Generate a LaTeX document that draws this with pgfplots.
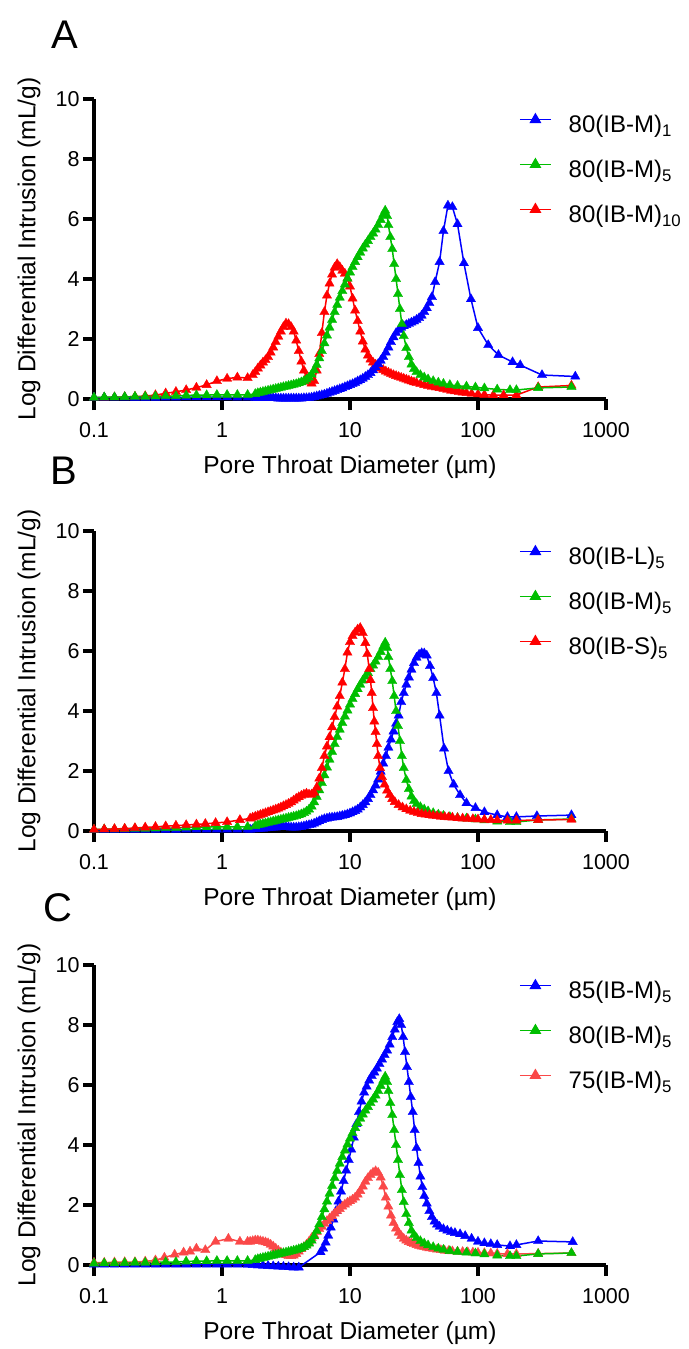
\documentclass[border=0pt]{standalone}
\usepackage{fontspec}
\setmainfont{Liberation Sans}
\usepackage{pgfplots}
\usepackage{pgfplotstable}
\pgfplotsset{compat=1.18}
\definecolor{cblue}{RGB}{0,0,255}
\definecolor{cgreen}{RGB}{0,190,0}
\definecolor{cred}{RGB}{255,0,0}
\definecolor{clred}{RGB}{250,72,72}

% ---------- data: lx = log10(diameter / um), y = log differential intrusion ----------
\pgfplotstableread{
lx y
-1.00 0.05
-0.92 0.06
-0.84 0.06
-0.76 0.07
-0.68 0.08
-0.60 0.08
-0.52 0.09
-0.44 0.10
-0.36 0.10
-0.28 0.12
-0.20 0.13
-0.12 0.13
-0.04 0.14
0.04 0.14
0.12 0.14
0.20 0.14
0.26 0.17
0.28 0.20
0.30 0.22
0.32 0.24
0.34 0.26
0.36 0.28
0.38 0.30
0.40 0.32
0.42 0.34
0.44 0.36
0.46 0.38
0.48 0.40
0.50 0.42
0.52 0.44
0.54 0.46
0.56 0.48
0.58 0.50
0.60 0.53
0.62 0.56
0.64 0.60
0.66 0.65
0.68 0.72
0.70 0.82
0.72 0.96
0.74 1.14
0.76 1.36
0.78 1.60
0.80 1.86
0.82 2.12
0.84 2.38
0.86 2.64
0.88 2.90
0.90 3.14
0.92 3.38
0.94 3.60
0.96 3.82
0.98 4.02
1.00 4.22
1.02 4.40
1.04 4.57
1.06 4.73
1.08 4.88
1.10 5.02
1.12 5.15
1.14 5.27
1.16 5.40
1.18 5.52
1.20 5.65
1.22 5.80
1.24 5.97
1.26 6.15
1.275 6.28
1.29 6.10
1.30 5.80
1.315 5.40
1.33 5.00
1.345 4.50
1.36 4.00
1.375 3.50
1.39 3.00
1.405 2.50
1.42 2.10
1.44 1.70
1.46 1.40
1.48 1.15
1.50 1.00
1.52 0.90
1.55 0.80
1.58 0.72
1.61 0.66
1.65 0.60
1.69 0.55
1.73 0.51
1.78 0.47
1.84 0.44
1.91 0.42
1.98 0.39
2.05 0.36
2.15 0.32
2.25 0.30
2.30 0.30
2.47 0.37
2.73 0.40
}\greenM

\pgfplotstableread{
lx y
-1.00 0.05
-0.92 0.05
-0.84 0.05
-0.76 0.05
-0.68 0.04
-0.60 0.04
-0.52 0.04
-0.44 0.05
-0.36 0.05
-0.28 0.06
-0.20 0.06
-0.12 0.06
-0.04 0.06
0.04 0.06
0.12 0.05
0.20 0.05
0.26 0.04
0.28 0.03
0.30 0.03
0.32 0.03
0.34 0.03
0.36 0.03
0.38 0.03
0.40 0.03
0.42 0.03
0.44 0.02
0.46 0.02
0.48 0.02
0.50 0.02
0.52 0.02
0.54 0.02
0.56 0.02
0.58 0.02
0.60 0.02
0.62 0.02
0.64 0.03
0.66 0.03
0.68 0.04
0.70 0.05
0.72 0.07
0.74 0.09
0.76 0.11
0.78 0.13
0.80 0.15
0.82 0.18
0.84 0.21
0.86 0.24
0.88 0.27
0.90 0.30
0.92 0.33
0.94 0.36
0.96 0.40
0.98 0.43
1.00 0.47
1.02 0.50
1.04 0.54
1.06 0.59
1.08 0.63
1.10 0.68
1.12 0.74
1.14 0.80
1.16 0.87
1.18 0.96
1.20 1.06
1.22 1.17
1.24 1.28
1.26 1.40
1.28 1.55
1.30 1.72
1.32 1.90
1.34 2.06
1.36 2.20
1.38 2.30
1.40 2.38
1.42 2.43
1.44 2.47
1.46 2.51
1.48 2.55
1.50 2.59
1.52 2.64
1.54 2.70
1.56 2.78
1.58 2.90
1.60 3.03
1.62 3.20
1.64 3.40
1.665 3.90
1.70 4.57
1.73 5.60
1.765 6.45
1.80 6.40
1.84 5.83
1.89 4.53
1.945 3.33
2.00 2.37
2.08 1.80
2.16 1.47
2.27 1.23
2.33 1.13
2.50 0.80
2.76 0.75
}\blueA

\pgfplotstableread{
lx y
-1.00 0.05
-0.92 0.05
-0.84 0.06
-0.76 0.07
-0.68 0.08
-0.60 0.10
-0.52 0.13
-0.44 0.19
-0.36 0.24
-0.28 0.30
-0.20 0.38
-0.12 0.47
-0.04 0.60
0.04 0.68
0.12 0.72
0.20 0.70
0.24 0.80
0.26 0.90
0.28 1.02
0.30 1.12
0.32 1.22
0.34 1.30
0.36 1.40
0.38 1.55
0.40 1.72
0.42 1.90
0.44 2.08
0.46 2.25
0.48 2.40
0.50 2.52
0.52 2.50
0.54 2.40
0.56 2.25
0.58 1.95
0.60 1.60
0.62 1.25
0.64 0.95
0.66 0.72
0.68 0.58
0.70 0.52
0.72 0.60
0.74 0.95
0.76 1.50
0.78 2.20
0.80 2.90
0.82 3.45
0.84 3.85
0.86 4.15
0.88 4.38
0.90 4.50
0.92 4.40
0.94 4.28
0.96 4.18
0.98 4.02
1.00 3.75
1.02 3.35
1.04 2.95
1.06 2.60
1.08 2.25
1.10 1.92
1.12 1.65
1.14 1.45
1.16 1.32
1.18 1.22
1.20 1.15
1.22 1.08
1.24 1.02
1.26 0.97
1.28 0.92
1.30 0.88
1.32 0.84
1.34 0.80
1.36 0.77
1.38 0.74
1.40 0.71
1.42 0.68
1.44 0.65
1.46 0.62
1.48 0.59
1.50 0.56
1.52 0.54
1.55 0.50
1.58 0.47
1.61 0.44
1.64 0.41
1.67 0.39
1.70 0.37
1.73 0.34
1.76 0.31
1.79 0.28
1.82 0.26
1.85 0.24
1.88 0.22
1.91 0.20
1.95 0.18
2.00 0.16
2.05 0.14
2.12 0.13
2.20 0.13
2.30 0.13
2.47 0.40
2.73 0.45
}\redA

\pgfplotstableread{
lx y
-1.00 0.04
-0.92 0.04
-0.84 0.04
-0.76 0.04
-0.68 0.04
-0.60 0.04
-0.52 0.04
-0.44 0.04
-0.36 0.04
-0.28 0.05
-0.20 0.05
-0.12 0.05
-0.04 0.05
0.04 0.05
0.12 0.05
0.20 0.05
0.22 0.05
0.24 0.06
0.26 0.06
0.28 0.07
0.30 0.08
0.32 0.08
0.34 0.09
0.36 0.10
0.38 0.11
0.40 0.12
0.42 0.12
0.44 0.13
0.46 0.13
0.48 0.14
0.50 0.14
0.52 0.13
0.54 0.12
0.56 0.12
0.58 0.12
0.60 0.13
0.62 0.14
0.64 0.16
0.66 0.18
0.68 0.20
0.70 0.22
0.72 0.25
0.74 0.29
0.76 0.33
0.78 0.37
0.80 0.40
0.82 0.42
0.84 0.44
0.86 0.45
0.88 0.46
0.90 0.47
0.92 0.49
0.94 0.51
0.96 0.53
0.98 0.56
1.00 0.59
1.02 0.63
1.04 0.67
1.06 0.72
1.08 0.79
1.10 0.87
1.12 0.96
1.14 1.07
1.16 1.20
1.18 1.36
1.20 1.52
1.22 1.72
1.24 1.98
1.26 2.25
1.28 2.50
1.30 2.78
1.32 3.05
1.34 3.32
1.36 3.58
1.38 3.85
1.40 4.30
1.42 4.60
1.44 4.88
1.46 5.12
1.48 5.38
1.50 5.60
1.52 5.78
1.54 5.88
1.56 5.93
1.58 5.92
1.60 5.85
1.625 5.50
1.65 5.10
1.675 4.60
1.70 3.85
1.735 2.75
1.77 2.00
1.81 1.55
1.86 1.20
1.91 0.93
1.98 0.77
2.05 0.63
2.15 0.53
2.23 0.47
2.30 0.47
2.46 0.50
2.73 0.53
}\blueB

\pgfplotstableread{
lx y
-1.00 0.05
-0.92 0.06
-0.84 0.07
-0.76 0.08
-0.68 0.10
-0.60 0.12
-0.52 0.14
-0.44 0.16
-0.36 0.18
-0.28 0.20
-0.20 0.22
-0.13 0.24
-0.05 0.27
0.04 0.30
0.14 0.37
0.22 0.42
0.24 0.45
0.26 0.48
0.28 0.51
0.30 0.54
0.32 0.57
0.34 0.60
0.36 0.63
0.38 0.66
0.40 0.69
0.42 0.72
0.44 0.75
0.46 0.79
0.48 0.83
0.50 0.87
0.52 0.91
0.54 0.96
0.56 1.02
0.58 1.08
0.60 1.13
0.62 1.18
0.64 1.22
0.66 1.25
0.68 1.22
0.70 1.22
0.72 1.28
0.74 1.45
0.76 1.75
0.78 2.10
0.80 2.50
0.82 2.82
0.84 3.13
0.86 3.46
0.88 3.80
0.90 4.15
0.92 4.50
0.94 4.95
0.96 5.40
0.98 5.95
1.00 6.30
1.02 6.50
1.04 6.62
1.06 6.72
1.08 6.77
1.10 6.60
1.12 6.27
1.135 5.90
1.15 5.40
1.16 5.03
1.17 4.60
1.18 4.10
1.19 3.65
1.20 3.30
1.21 2.90
1.22 2.50
1.235 2.10
1.25 1.80
1.27 1.55
1.29 1.35
1.31 1.20
1.33 1.07
1.35 0.97
1.38 0.87
1.41 0.79
1.44 0.73
1.47 0.68
1.50 0.64
1.53 0.60
1.56 0.57
1.59 0.55
1.62 0.53
1.65 0.51
1.68 0.50
1.71 0.48
1.74 0.47
1.77 0.46
1.80 0.45
1.84 0.43
1.88 0.42
1.92 0.41
1.96 0.40
2.00 0.39
2.05 0.38
2.10 0.37
2.15 0.36
2.23 0.35
2.30 0.35
2.47 0.37
2.73 0.38
}\redB

\pgfplotstableread{
lx y
-1.00 0.02
-0.92 0.02
-0.84 0.02
-0.76 0.02
-0.68 0.02
-0.60 0.02
-0.52 0.02
-0.44 0.02
-0.36 0.02
-0.28 0.02
-0.20 0.02
-0.12 0.02
-0.04 0.02
0.04 0.02
0.12 0.02
0.20 0.01
0.24 0.00
0.28 -0.01
0.32 -0.02
0.36 -0.03
0.40 -0.04
0.44 -0.05
0.48 -0.06
0.52 -0.07
0.56 -0.08
0.60 -0.08
0.77 0.43
0.79 0.55
0.81 0.75
0.83 0.98
0.85 1.25
0.87 1.52
0.89 1.80
0.91 2.12
0.93 2.45
0.95 2.80
0.97 3.15
0.99 3.50
1.01 3.85
1.03 4.25
1.05 4.70
1.07 5.10
1.09 5.45
1.11 5.75
1.13 5.95
1.15 6.15
1.17 6.30
1.19 6.42
1.21 6.55
1.23 6.70
1.25 6.85
1.27 7.00
1.29 7.15
1.31 7.35
1.33 7.60
1.35 7.85
1.37 8.10
1.385 8.20
1.40 8.00
1.415 7.60
1.43 7.10
1.445 6.60
1.46 6.10
1.475 5.60
1.49 5.10
1.505 4.50
1.52 3.90
1.535 3.40
1.55 2.95
1.565 2.60
1.58 2.30
1.60 2.05
1.62 1.80
1.64 1.60
1.66 1.45
1.68 1.35
1.70 1.28
1.73 1.20
1.76 1.15
1.79 1.10
1.82 1.07
1.86 1.03
1.90 0.97
1.95 0.88
2.00 0.78
2.05 0.73
2.10 0.70
2.15 0.67
2.25 0.63
2.30 0.67
2.47 0.80
2.74 0.77
}\blueC

\pgfplotstableread{
lx y
-1.00 0.08
-0.92 0.08
-0.84 0.09
-0.76 0.10
-0.68 0.10
-0.60 0.12
-0.52 0.16
-0.45 0.25
-0.37 0.35
-0.30 0.42
-0.25 0.45
-0.20 0.55
-0.13 0.50
-0.05 0.78
0.05 0.88
0.14 0.78
0.20 0.78
0.22 0.78
0.24 0.80
0.26 0.82
0.28 0.82
0.30 0.80
0.32 0.78
0.34 0.76
0.36 0.73
0.38 0.68
0.40 0.62
0.42 0.55
0.44 0.48
0.46 0.42
0.48 0.37
0.50 0.33
0.52 0.30
0.54 0.30
0.56 0.32
0.58 0.37
0.60 0.45
0.62 0.53
0.64 0.60
0.66 0.68
0.68 0.78
0.70 0.90
0.72 1.00
0.74 1.10
0.76 1.20
0.78 1.28
0.80 1.38
0.82 1.47
0.84 1.55
0.86 1.63
0.88 1.72
0.90 1.80
0.92 1.87
0.94 1.95
0.96 2.02
0.98 2.08
1.00 2.13
1.02 2.18
1.04 2.25
1.06 2.35
1.08 2.47
1.10 2.62
1.12 2.78
1.14 2.90
1.16 3.00
1.18 3.08
1.20 3.13
1.22 3.08
1.24 2.92
1.26 2.62
1.28 2.25
1.30 1.95
1.32 1.65
1.34 1.40
1.36 1.22
1.38 1.08
1.40 0.97
1.42 0.88
1.44 0.82
1.46 0.77
1.48 0.73
1.50 0.70
1.52 0.67
1.54 0.64
1.56 0.62
1.58 0.60
1.60 0.58
1.62 0.56
1.65 0.54
1.68 0.52
1.71 0.50
1.74 0.48
1.77 0.47
1.80 0.46
1.84 0.45
1.88 0.44
1.92 0.43
1.96 0.42
2.00 0.41
2.05 0.40
2.10 0.39
2.15 0.38
2.23 0.37
2.30 0.37
2.47 0.38
2.73 0.40
}\redC

% ---------- common axis settings (set globally) ----------
\pgfplotsset{
  scale only axis, width=512pt, height=300pt,
  xmin=0.1, xmax=1000, ymin=0, ymax=10,
  xtick={0.1,1,10,100,1000}, xticklabels={0.1,1,10,100,1000},
  ytick={0,2,4,6,8,10}, yticklabels={0,2,4,6,8,10},
  xminorticks=false, yminorticks=false,
  tick align=outside, major tick length=11pt,
  tick label style={font=\fontsize{21.5}{21.5}\selectfont},
  xticklabel style={yshift=-9pt},
  clip=false,
  label style={font=\fontsize{24.5}{24.5}\selectfont},
  legend cell align=left,
}
\pgfplotsset{
  legend image code/.code={\draw[#1, mark repeat=2, mark phase=2] plot coordinates {(0pt,7pt) (15.5pt,7pt) (31pt,7pt)};},
}
\tikzset{
  xlab/.style={at={(axis description cs:0.5,-0.227)}, anchor=center},
  ylab/.style={at={(axis description cs:-0.127,0.5)}, anchor=center},
  legA/.style={draw=none, fill=none, font=\fontsize{24}{24}\selectfont,
      at={(axis description cs:0.83,0.95)}, anchor=north west,
      row sep=21.5pt, inner sep=0pt,
      nodes={inner sep=0pt, text height=17pt, text depth=5pt},
      every odd column/.append style={column sep=17pt}},
}

\begin{document}
\begin{tikzpicture}
\path[use as bounding box] (0pt,0pt) rectangle (688pt,-1349pt);

% ---------------- Panel A ----------------
\begin{axis}[xmode=log, at={(94pt,-399pt)}, anchor=south west,
  axis x line*=bottom, axis y line*=left,
  axis line style={line width=4.2pt, black},
  tick style={line width=3.4pt, black},
  xlabel={Pore Throat Diameter (µm)}, ylabel={Log Differential Intrusion (mL/g)},
  xlabel style={xlab}, ylabel style={ylab}, legend style={legA}]
\addplot[color=cred, line width=1.5pt, mark=triangle*, mark size=5.4pt, mark options={solid, fill=cred, line width=0.3pt}, forget plot] table[x expr=10^\thisrow{lx}, y=y] {\redA};
\addplot[color=cblue, line width=1.5pt, mark=triangle*, mark size=5.4pt, mark options={solid, fill=cblue, line width=0.3pt}, forget plot] table[x expr=10^\thisrow{lx}, y=y] {\blueA};
\addplot[color=cgreen, line width=1.5pt, mark=triangle*, mark size=5.4pt, mark options={solid, fill=cgreen, line width=0.3pt}, forget plot] table[x expr=10^\thisrow{lx}, y=y] {\greenM};
\addlegendimage{color=cblue, line width=1.5pt, mark=triangle*, mark size=5.4pt, mark options={solid, fill=cblue}}
\addlegendentry{80(IB-M)\textsubscript{1}}
\addlegendimage{color=cgreen, line width=1.5pt, mark=triangle*, mark size=5.4pt, mark options={solid, fill=cgreen}}
\addlegendentry{80(IB-M)\textsubscript{5}}
\addlegendimage{color=cred, line width=1.5pt, mark=triangle*, mark size=5.4pt, mark options={solid, fill=cred}}
\addlegendentry{80(IB-M)\textsubscript{10}}
\end{axis}

% ---------------- Panel B ----------------
\begin{axis}[xmode=log, at={(94pt,-831pt)}, anchor=south west,
  axis x line*=bottom, axis y line*=left,
  axis line style={line width=4.2pt, black},
  tick style={line width=3.4pt, black},
  xlabel={Pore Throat Diameter (µm)}, ylabel={Log Differential Intrusion (mL/g)},
  xlabel style={xlab}, ylabel style={ylab}, legend style={legA}]
\addplot[color=cblue, line width=1.5pt, mark=triangle*, mark size=5.4pt, mark options={solid, fill=cblue, line width=0.3pt}, forget plot] table[x expr=10^\thisrow{lx}, y=y] {\blueB};
\addplot[color=cgreen, line width=1.5pt, mark=triangle*, mark size=5.4pt, mark options={solid, fill=cgreen, line width=0.3pt}, forget plot] table[x expr=10^\thisrow{lx}, y=y] {\greenM};
\addplot[color=cred, line width=1.5pt, mark=triangle*, mark size=5.4pt, mark options={solid, fill=cred, line width=0.3pt}, forget plot] table[x expr=10^\thisrow{lx}, y=y] {\redB};
\addlegendimage{color=cblue, line width=1.5pt, mark=triangle*, mark size=5.4pt, mark options={solid, fill=cblue}}
\addlegendentry{80(IB-L)\textsubscript{5}}
\addlegendimage{color=cgreen, line width=1.5pt, mark=triangle*, mark size=5.4pt, mark options={solid, fill=cgreen}}
\addlegendentry{80(IB-M)\textsubscript{5}}
\addlegendimage{color=cred, line width=1.5pt, mark=triangle*, mark size=5.4pt, mark options={solid, fill=cred}}
\addlegendentry{80(IB-S)\textsubscript{5}}
\end{axis}

% ---------------- Panel C ----------------
\begin{axis}[xmode=log, at={(94pt,-1265pt)}, anchor=south west,
  axis x line*=bottom, axis y line*=left,
  axis line style={line width=4.2pt, black},
  tick style={line width=3.4pt, black},
  xlabel={Pore Throat Diameter (µm)}, ylabel={Log Differential Intrusion (mL/g)},
  xlabel style={xlab}, ylabel style={ylab}, legend style={legA}]
\addplot[color=cblue, line width=1.5pt, mark=triangle*, mark size=5.4pt, mark options={solid, fill=cblue, line width=0.3pt}, forget plot] table[x expr=10^\thisrow{lx}, y=y] {\blueC};
\addplot[color=clred, line width=1.5pt, mark=triangle*, mark size=5.4pt, mark options={solid, fill=clred, line width=0.3pt}, forget plot] table[x expr=10^\thisrow{lx}, y=y] {\redC};
\addplot[color=cgreen, line width=1.5pt, mark=triangle*, mark size=5.4pt, mark options={solid, fill=cgreen, line width=0.3pt}, forget plot] table[x expr=10^\thisrow{lx}, y=y] {\greenM};
\addlegendimage{color=cblue, line width=1.5pt, mark=triangle*, mark size=5.4pt, mark options={solid, fill=cblue}}
\addlegendentry{85(IB-M)\textsubscript{5}}
\addlegendimage{color=cgreen, line width=1.5pt, mark=triangle*, mark size=5.4pt, mark options={solid, fill=cgreen}}
\addlegendentry{80(IB-M)\textsubscript{5}}
\addlegendimage{color=clred, line width=1.5pt, mark=triangle*, mark size=5.4pt, mark options={solid, fill=clred}}
\addlegendentry{75(IB-M)\textsubscript{5}}
\end{axis}

\node[font=\fontsize{40}{40}\selectfont] at (65pt,-35pt) {A};
\node[font=\fontsize{40}{40}\selectfont] at (64pt,-471pt) {B};
\node[font=\fontsize{40}{40}\selectfont] at (58pt,-908pt) {C};
\end{tikzpicture}
\end{document}
